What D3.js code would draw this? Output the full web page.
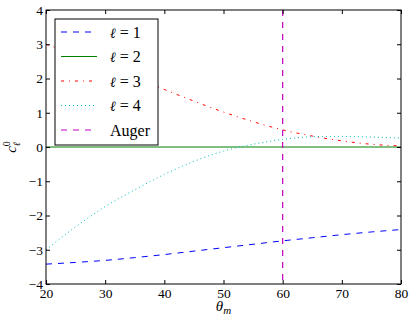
<!DOCTYPE html>
<html>
<head>
<meta charset="utf-8">
<script src="https://cdn.jsdelivr.net/npm/d3@7"></script>
<style>
  body { margin: 0; background: #fff; }
  svg text { font-family: "Liberation Serif", "DejaVu Serif", serif; fill: #000; }
</style>
</head>
<body>
<div id="chart"></div>
<script>
// angles theta_m (deg)
var theta = [20, 25, 30, 35, 40, 45, 50, 55, 60, 65, 70, 75, 80];
var c1 = [-3.42, -3.37, -3.31, -3.23, -3.14, -3.04, -2.94, -2.84, -2.74, -2.65, -2.56, -2.48, -2.41];
var c2 = [0, 0, 0, 0, 0, 0, 0, 0, 0, 0, 0, 0, 0];
var c3 = [3.0, 2.7, 2.38, 2.04, 1.68, 1.34, 1.02, 0.74, 0.5, 0.32, 0.18, 0.08, 0.03];
var c4 = [-3.0, -2.33, -1.74, -1.25, -0.8, -0.42, -0.12, 0.08, 0.22, 0.3, 0.31, 0.29, 0.26];
var auger = 60;
var xTicks = [20, 30, 40, 50, 60, 70, 80];
var yTicks = [-4, -3, -2, -1, 0, 1, 2, 3, 4];
var labels = ["= 1", "= 2", "= 3", "= 4", "Auger"];

var margin = { top: 10, right: 12, bottom: 35, left: 46 },
    width = 413 - margin.left - margin.right,
    height = 319 - margin.top - margin.bottom;

var svg = d3.select("#chart").append("svg")
    .attr("width", 413).attr("height", 319)
  .append("g")
    .attr("transform", "translate(" + margin.left + "," + margin.top + ")");

var x = d3.scaleLinear().domain([20, 80]).range([0, width]);
var y = d3.scaleLinear().domain([-4, 4]).range([height, 0]);

var series = [
  { vals: c1, color: "#0000ff", dash: "6,6", w: 1 },
  { vals: c2, color: "#008000", dash: null, w: 1.2 },
  { vals: c3, color: "#ff0000", dash: "3,5,1,5", w: 1 },
  { vals: c4, color: "#00bfbf", dash: "1,3", w: 1 }
];

var line = d3.line()
  .x(function(d) { return x(d[0]); })
  .y(function(d) { return y(d[1]); })
  .curve(d3.curveMonotoneX);

var plot = svg.append("g");
plot.append("clipPath").attr("id", "clip")
  .append("rect").attr("width", width).attr("height", height);

series.forEach(function(s) {
  plot.append("path")
    .datum(theta.map(function(t, i) { return [t, s.vals[i]]; }))
    .attr("clip-path", "url(#clip)")
    .attr("fill", "none")
    .attr("stroke", s.color)
    .attr("stroke-width", s.w)
    .attr("stroke-dasharray", s.dash)
    .attr("d", line);
});

plot.append("line")
  .attr("x1", x(auger)).attr("x2", x(auger))
  .attr("y1", 0).attr("y2", height)
  .attr("stroke", "#bf00bf").attr("stroke-width", 1.2)
  .attr("stroke-dasharray", "6,6");

// axes, ticks inward on all sides
var fontSize = "13.5px";
svg.append("g").attr("transform", "translate(0," + height + ")")
  .call(d3.axisBottom(x).tickValues(xTicks).tickSize(-4).tickPadding(4))
  .call(function(g) { g.select(".domain").remove(); })
  .selectAll("text").style("font-size", fontSize);
svg.append("g")
  .call(d3.axisTop(x).tickValues(xTicks).tickSize(-4).tickFormat(""))
  .call(function(g) { g.select(".domain").remove(); });
svg.append("g")
  .call(d3.axisLeft(y).tickValues(yTicks).tickSize(-4).tickPadding(3)
    .tickFormat(function(d) { return d < 0 ? "\u2212" + (-d) : d; }))
  .call(function(g) { g.select(".domain").remove(); })
  .selectAll("text").style("font-size", fontSize);
svg.append("g").attr("transform", "translate(" + width + ",0)")
  .call(d3.axisRight(y).tickValues(yTicks).tickSize(-4).tickFormat(""))
  .call(function(g) { g.select(".domain").remove(); });

svg.append("rect")
  .attr("width", width).attr("height", height)
  .attr("fill", "none").attr("stroke", "#000").attr("stroke-width", 1);

// axis labels
svg.append("text")
  .attr("x", width / 2).attr("y", height + 27)
  .attr("text-anchor", "middle")
  .style("font-size", "15px").style("font-style", "italic")
  .html("θ<tspan dy='3' font-size='11px'>m</tspan>");

svg.append("text")
  .attr("transform", "translate(-30," + (height / 2) + ") rotate(-90)")
  .attr("text-anchor", "middle")
  .style("font-size", "15px").style("font-style", "italic")
  .html("c<tspan dy='-6' font-size='10px' font-style='normal'>0</tspan><tspan dx='-5' dy='10' font-size='10px' font-family='DejaVu Serif'>ℓ</tspan>");

// legend
var legendItems = series.map(function(s, i) { return { color: s.color, dash: s.dash, w: s.w, label: labels[i], ell: true }; });
legendItems.push({ color: "#bf00bf", dash: "6,6", w: 1.2, label: labels[4], ell: false });

var lg = svg.append("g").attr("transform", "translate(9,9)");
lg.append("rect")
  .attr("width", 103).attr("height", 126)
  .attr("fill", "#fff").attr("stroke", "#000").attr("stroke-width", 1);

var item = lg.selectAll(".item").data(legendItems).enter().append("g")
  .attr("class", "item")
  .attr("transform", function(d, i) { return "translate(0," + (13 + i * 24.5) + ")"; });
item.append("line")
  .attr("x1", 6).attr("x2", 42)
  .attr("stroke", function(d) { return d.color; })
  .attr("stroke-width", function(d) { return d.w; })
  .attr("stroke-dasharray", function(d) { return d.dash; });
item.append("text")
  .attr("x", 55).attr("dy", "0.35em")
  .style("font-size", "16px")
  .each(function(d) {
    var t = d3.select(this);
    if (d.ell) {
      t.append("tspan").attr("font-family", "DejaVu Serif").attr("font-style", "italic")
        .attr("font-size", "14px").text("ℓ");
      t.append("tspan").text(" " + d.label);
    } else {
      t.text(d.label);
    }
  });
</script>
</body>
</html>
